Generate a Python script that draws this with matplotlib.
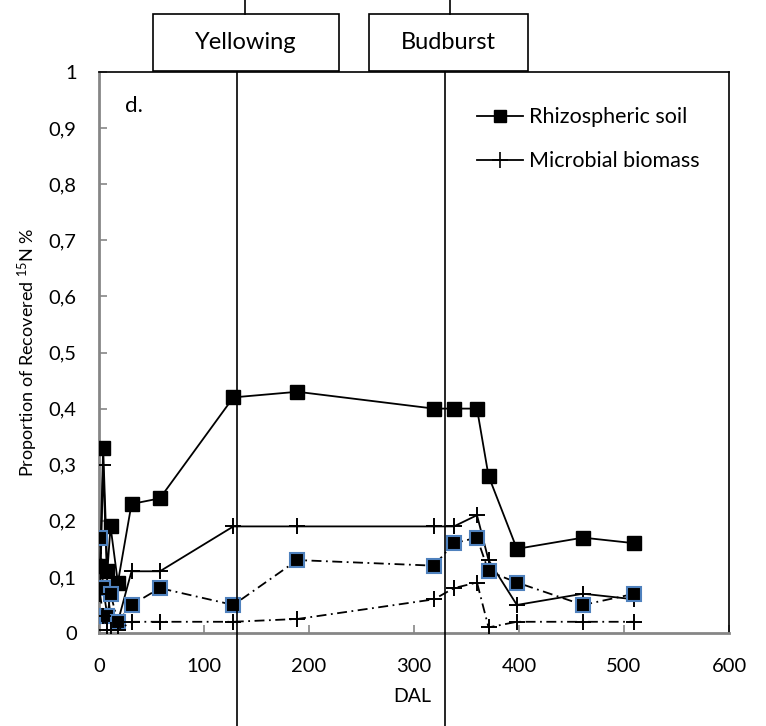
import numpy as np
import matplotlib
matplotlib.use('Agg')
import matplotlib.pyplot as plt
from matplotlib.patches import Rectangle
from matplotlib.lines import Line2D
from matplotlib.ticker import FuncFormatter

plt.rcParams['font.family'] = ['Lato', 'DejaVu Sans']
plt.rcParams['mathtext.fontset'] = 'custom'
plt.rcParams['mathtext.rm'] = 'Lato'

# ---- data ----
rhizo_dal = [1, 4, 8, 11, 18, 31, 58, 128, 189, 319, 338, 360, 371, 398, 461, 510]
rhizo_a   = [0.12, 0.33, 0.11, 0.19, 0.09, 0.23, 0.24, 0.42, 0.43, 0.40, 0.40, 0.40, 0.28, 0.15, 0.17, 0.16]
micro_a   = [0.07, 0.30, 0.08, 0.03, 0.02, 0.11, 0.11, 0.19, 0.19, 0.19, 0.19, 0.21, 0.13, 0.05, 0.07, 0.06]
rhizo_b   = [0.17, 0.08, 0.03, 0.07, 0.02, 0.05, 0.08, 0.05, 0.13, 0.12, 0.16, 0.17, 0.11, 0.09, 0.05, 0.07]
micro_b   = [0.07, 0.03, 0.005, 0.005, 0.005, 0.02, 0.02, 0.02, 0.025, 0.06, 0.08, 0.09, 0.01, 0.02, 0.02, 0.02]

events     = ['Yellowing', 'Budburst']
event_dal  = [131, 330]

xticks = [0, 100, 200, 300, 400, 500, 600]
yticks = np.round(np.arange(0, 1.01, 0.1), 1)

# ---- figure ----
fig = plt.figure(figsize=(7.66, 7.26), dpi=100)
ax = fig.add_axes([0.1292, 0.1281, 0.8225, 0.7727])

gray = '#868686'
blue = '#4F81BD'
dd = (5.5, 2.5, 1, 2.5)
lw = 1.3

ax.plot(rhizo_dal, rhizo_a, color='black', lw=lw, marker='s', ms=10,
        mfc='black', mec='black', zorder=3)
ax.plot(rhizo_dal, micro_a, color='black', lw=lw, marker='+', ms=12,
        mew=1.4, zorder=3)
ax.plot(rhizo_dal, rhizo_b, color='black', lw=lw, dashes=dd, marker='s', ms=10,
        mfc='black', mec=blue, mew=1.5, zorder=4)
ax.plot(rhizo_dal, micro_b, color='black', lw=lw, dashes=dd, marker='+', ms=12,
        mew=1.4, zorder=4)

ax.set_xlim(0, 600)
ax.set_ylim(0, 1)
ax.set_xticks(xticks)
ax.set_yticks(yticks)
ax.yaxis.set_major_formatter(FuncFormatter(lambda v, _: ('%g' % v).replace('.', ',')))
ax.tick_params(direction='in', length=6, width=1.2, color=gray, labelsize=14.5)
ax.tick_params(axis='x', pad=18)
ax.tick_params(axis='y', pad=16)

for s in ['left', 'bottom']:
    ax.spines[s].set_color(gray)
    ax.spines[s].set_linewidth(2)
for s in ['top', 'right']:
    ax.spines[s].set_color('black')
    ax.spines[s].set_linewidth(1.2)

ax.set_xlabel('DAL', fontsize=14)
ax.xaxis.set_label_coords(0.498, -0.114)
ax.xaxis.label.set_verticalalignment('center')
ax.set_ylabel(r'Proportion of Recovered $\mathrm{^{15}}$N %', fontsize=13)
ax.yaxis.set_label_coords(-0.113, 0.5)
ax.yaxis.label.set_verticalalignment('center')

ax.text(0.0556, 0.94, 'd.', transform=ax.transAxes, fontsize=16,
        ha='center', va='center')

# legend
h1 = Line2D([], [], color='black', lw=lw, marker='s', ms=9)
h2 = Line2D([], [], color='black', lw=lw, marker='+', ms=11, mew=1.2)
ax.legend([h1, h2], ['Rhizospheric soil', 'Microbial biomass'],
          loc='upper left', bbox_to_anchor=(0.6, 0.937), frameon=False,
          fontsize=15.5, handlelength=2.14, handletextpad=0.28,
          labelspacing=1.1, borderpad=0, borderaxespad=0)

# phenology callouts
box_x   = [(51.4, 228.6), (257.0, 408.6)]
conn_x  = [139, 334]
for name, d, (x0, x1), cx in zip(events, event_dal, box_x, conn_x):
    ax.plot([d, d], [1.0, -0.17], color='black', lw=1.2, clip_on=False, zorder=5)
    ax.add_patch(Rectangle((x0, 1.0018), x1 - x0, 0.101, fill=False,
                           ec='black', lw=1.2, clip_on=False))
    ax.plot([cx, cx], [1.103, 1.14], color='black', lw=1.2, clip_on=False)
    ax.text((x0 + x1) / 2, 1.052, name, fontsize=17, ha='center', va='center')

fig.savefig('out.png', dpi=100)
